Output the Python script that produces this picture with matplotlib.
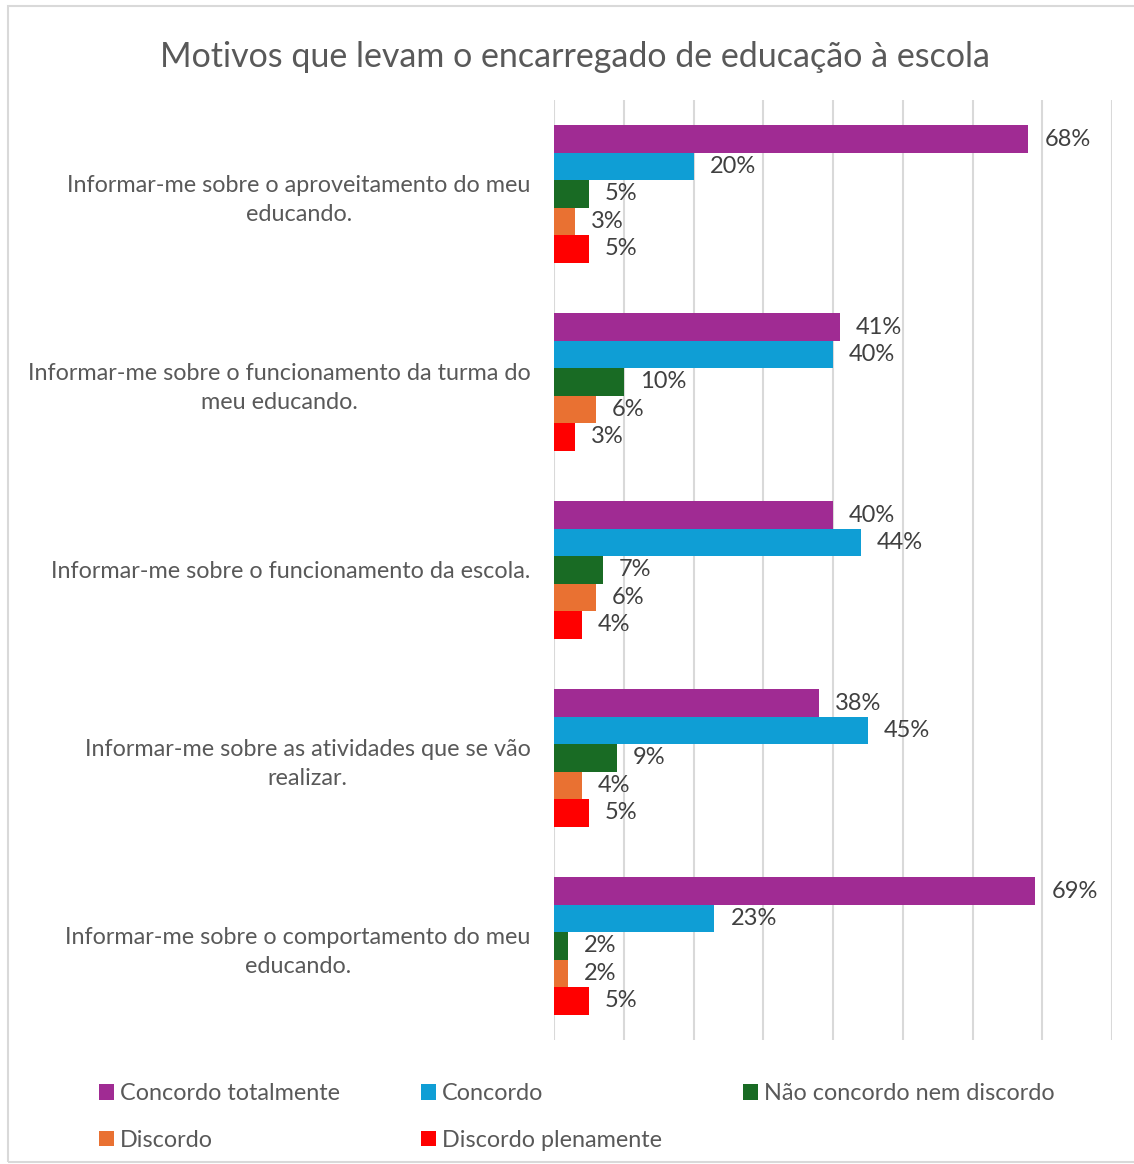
import matplotlib
import matplotlib.pyplot as plt
import numpy as np
from matplotlib.patches import Rectangle

matplotlib.use("Agg")

plt.rcParams.update({
    "font.family": ["Lato", "DejaVu Sans"],
})

categories = [
    "Informar-me sobre o aproveitamento do meu\neducando.",
    "Informar-me sobre o funcionamento da turma do\nmeu educando.",
    "Informar-me sobre o funcionamento da escola.",
    "Informar-me sobre as atividades que se vão\nrealizar.",
    "Informar-me sobre o comportamento do meu\neducando.",
]
series_names = ["Concordo totalmente", "Concordo", "Não concordo nem discordo",
                "Discordo", "Discordo plenamente"]
concordo_totalmente = [68, 41, 40, 38, 69]
concordo = [20, 40, 44, 45, 23]
neutro = [5, 10, 7, 9, 2]
discordo = [3, 6, 6, 4, 2]
discordo_plenamente = [5, 3, 4, 5, 5]
colors = ["#A02B93", "#0F9ED5", "#196B24", "#E97132", "#FF0000"]

series = [concordo_totalmente, concordo, neutro, discordo, discordo_plenamente]

W, H = 1134, 1164
fig = plt.figure(figsize=(W / 100, H / 100), dpi=100)
ax = fig.add_axes([554 / W, 1 - 1040 / H, (1112 - 554) / W, 940 / H])

# frame round the chart
fig.patches.append(Rectangle((8 / W, 1 - 1162 / H), 1.2, 1156 / H, transform=fig.transFigure,
                             fill=False, edgecolor="#D9D9D9", linewidth=1.5))

y = np.arange(len(categories))
bh = 0.146
handles = []
for i, (vals, name, c) in enumerate(zip(series, series_names, colors)):
    pos = y + (i - 2) * bh
    b = ax.barh(pos, vals, height=bh, color=c, label=name, zorder=3)
    handles.append(b)
    for p, v in zip(pos, vals):
        ax.annotate(f"{v}%", (v, p), xytext=(16, 0), textcoords="offset pixels",
                    va="center", ha="left", fontsize=17, color="#404040")

ax.set_xlim(0, 80)
ax.set_ylim(4.5, -0.5)
ax.set_xticks(np.arange(0, 81, 10))
ax.tick_params(axis="x", length=0, labelbottom=False)
ax.tick_params(axis="y", length=0, pad=17)
ax.set_yticks(y)
ax.set_yticklabels(categories, fontsize=16.8, color="#595959", multialignment="center",
                   linespacing=1.45)
ax.grid(axis="x", color="#D9D9D9", linewidth=1.5, zorder=0)
for s in ax.spines.values():
    s.set_visible(False)

fig.text(575 / W, 1 - 57 / H, "Motivos que levam o encarregado de educação à escola",
         ha="center", va="center", fontsize=24.5, color="#595959")

order = [0, 3, 1, 4, 2]
leg = fig.legend([handles[k] for k in order], [series_names[k] for k in order],
                 loc="upper left", bbox_to_anchor=(99 / W, 1 - 1083 / H), ncol=3,
                 frameon=False, fontsize=16.8, handlelength=0.65, handleheight=0.65,
                 handletextpad=0.25, columnspacing=3.47, labelspacing=1.1,
                 labelcolor="#595959", borderaxespad=0, borderpad=0)

fig.savefig("out.png", dpi=100, facecolor="white")
